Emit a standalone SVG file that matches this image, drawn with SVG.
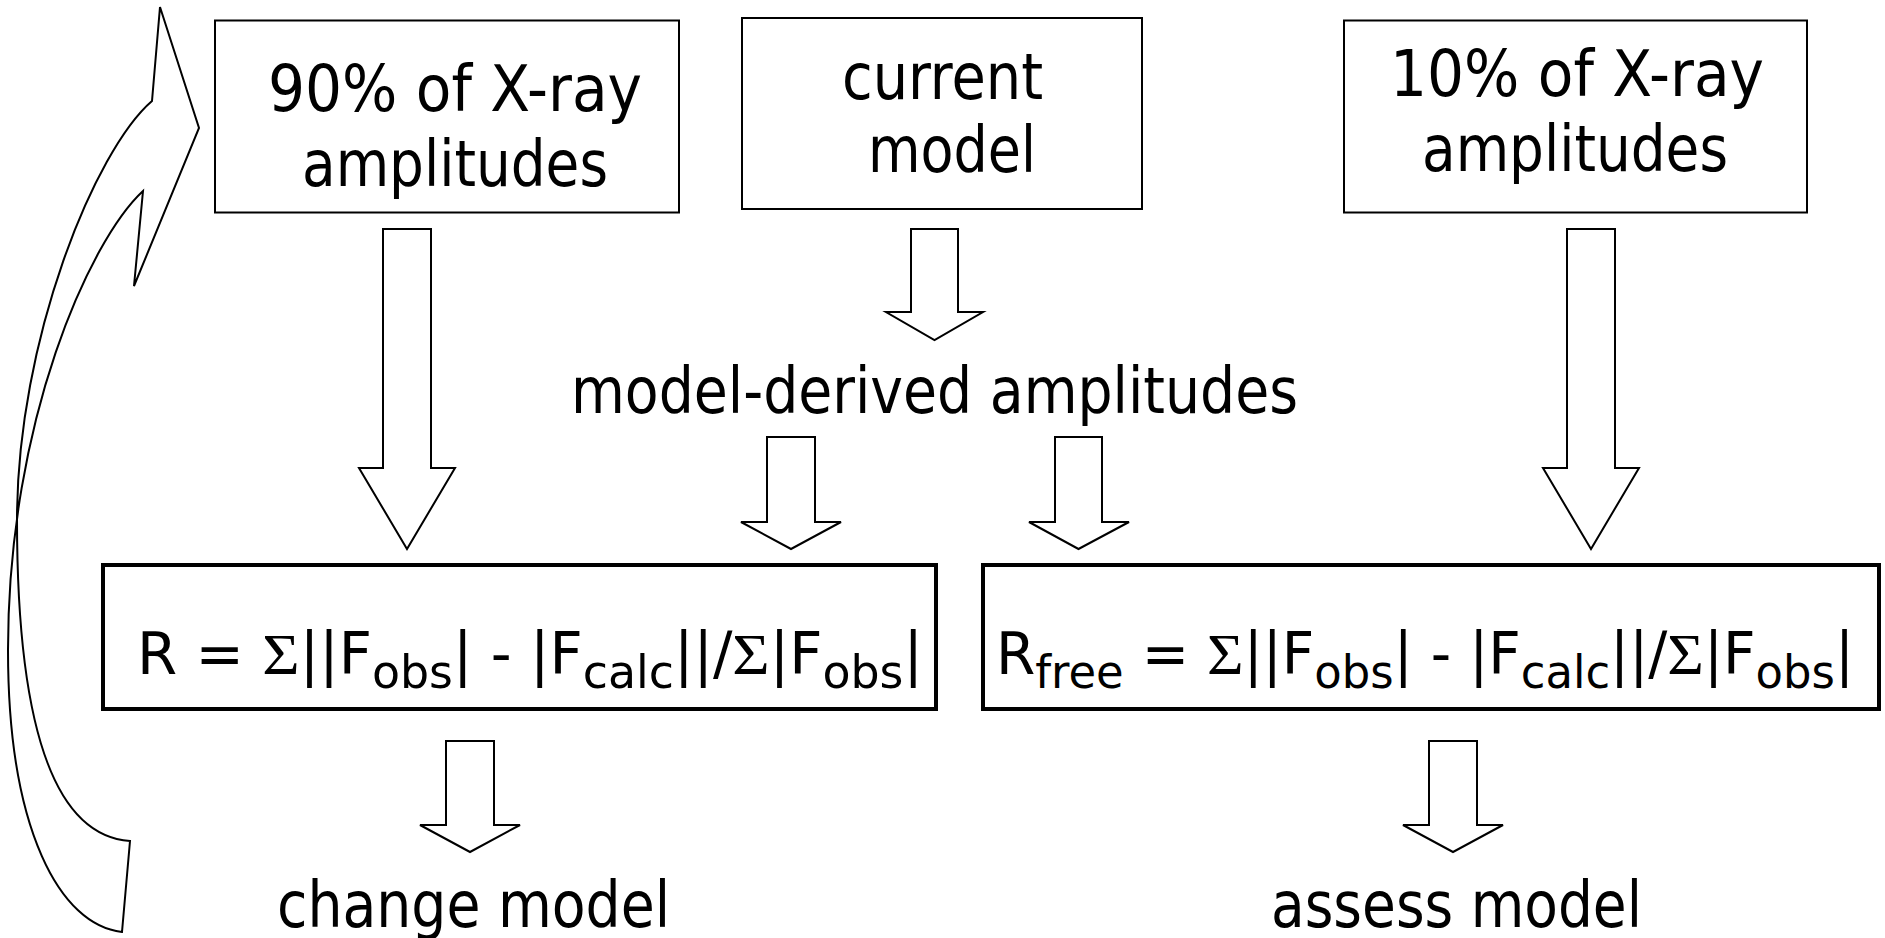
<svg xmlns="http://www.w3.org/2000/svg" width="1885" height="938" viewBox="0 0 1885 938">
<style>
.box{fill:#fff;stroke:#000;stroke-width:2}
.fbox{fill:#fff;stroke:#000;stroke-width:4}
.arr{fill:#fff;stroke:#000;stroke-width:2;stroke-linejoin:miter}
.t{font-family:'DejaVu Sans Condensed','DejaVu Sans',sans-serif;font-size:64px;fill:#000}
.f{font-family:'DejaVu Sans Condensed','DejaVu Sans',sans-serif;font-size:58px;fill:#000}
.sub{font-size:46px}
.sig{font-family:'Liberation Serif',serif}
</style>
<rect width="1885" height="938" fill="#fff"/>
<g id="connectors">
<path class="arr" d="M383,229 H431 V468 H455 L407,549 L359,468 H383 Z"/>
<path class="arr" d="M911,229 H958 V312 H983 L934.5,340 L886,312 H911 Z"/>
<path class="arr" d="M767,437 H815 V522 H841 L791,549 L741,522 H767 Z"/>
<path class="arr" d="M1055,437 H1102 V522 H1129 L1078.5,549 L1029,522 H1055 Z"/>
<path class="arr" d="M1567,229 H1615 V468 H1639 L1591,549 L1543,468 H1567 Z"/>
<path class="arr" d="M446,741 H494 V825 H520 L470,852 L420,825 H446 Z"/>
<path class="arr" d="M1429,741 H1477 V825 H1503 L1453,852 L1403,825 H1429 Z"/>
<path id="loop" fill="none" stroke="#000" stroke-width="2" stroke-linejoin="miter" d="M160,7 L199,128 L134,286 L143,191 C90,240 8,420 8,650 C8,830 60,925 122,932 L130,841 C45,835 17,700 17,520 C17,340 95,150 152,101 Z"/>
</g>
<g id="node-90">
<rect class="box" x="215" y="20.5" width="464" height="192"/>
<text class="t" x="268" y="111" textLength="374" lengthAdjust="spacingAndGlyphs">90% of X-ray</text>
<text class="t" x="302" y="186" textLength="306" lengthAdjust="spacingAndGlyphs">amplitudes</text>
</g>
<g id="node-current">
<rect class="box" x="742" y="18" width="400" height="191"/>
<text class="t" x="842" y="99" textLength="201" lengthAdjust="spacingAndGlyphs">current</text>
<text class="t" x="868" y="172" textLength="168" lengthAdjust="spacingAndGlyphs">model</text>
</g>
<g id="node-10">
<rect class="box" x="1344" y="20.5" width="463" height="192"/>
<text class="t" x="1390" y="96" textLength="374" lengthAdjust="spacingAndGlyphs">10% of X-ray</text>
<text class="t" x="1422" y="171" textLength="306" lengthAdjust="spacingAndGlyphs">amplitudes</text>
</g>
<g id="node-derived">
<text class="t" x="571" y="413" textLength="727" lengthAdjust="spacingAndGlyphs">model-derived amplitudes</text>
</g>
<g id="node-R">
<rect class="fbox" x="103" y="565" width="833" height="144"/>
<text class="f" x="137" y="674" textLength="786" lengthAdjust="spacingAndGlyphs">R = <tspan class="sig">Σ</tspan>||F<tspan class="sub" dy="14">obs</tspan><tspan dy="-14">| - |F</tspan><tspan class="sub" dy="14">calc</tspan><tspan dy="-14">||/</tspan><tspan class="sig">Σ</tspan>|F<tspan class="sub" dy="14">obs</tspan><tspan dy="-14">|</tspan></text>
</g>
<g id="node-Rfree">
<rect class="fbox" x="983" y="565" width="896" height="144"/>
<text class="f" x="996" y="674" textLength="858" lengthAdjust="spacingAndGlyphs">R<tspan class="sub" dy="14">free</tspan><tspan dy="-14"> = </tspan><tspan class="sig">Σ</tspan>||F<tspan class="sub" dy="14">obs</tspan><tspan dy="-14">| - |F</tspan><tspan class="sub" dy="14">calc</tspan><tspan dy="-14">||/</tspan><tspan class="sig">Σ</tspan>|F<tspan class="sub" dy="14">obs</tspan><tspan dy="-14">|</tspan></text>
</g>
<g id="node-change">
<text class="t" x="277" y="927" textLength="393" lengthAdjust="spacingAndGlyphs">change model</text>
</g>
<g id="node-assess">
<text class="t" x="1271" y="927" textLength="371" lengthAdjust="spacingAndGlyphs">assess model</text>
</g>
</svg>
